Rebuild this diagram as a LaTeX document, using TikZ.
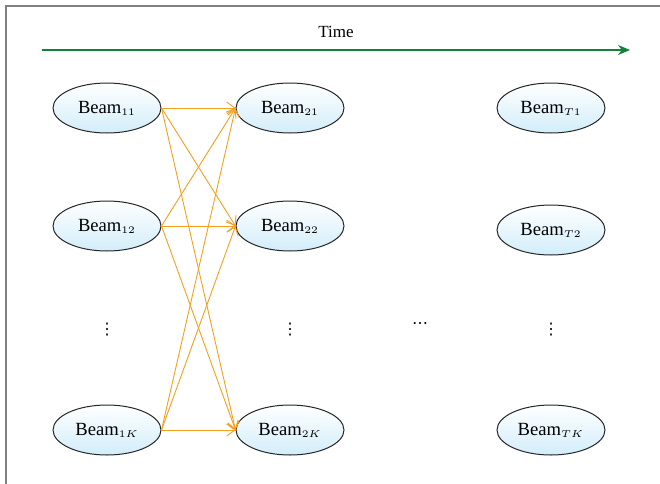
\documentclass[tikz,border=0pt]{standalone}
\usepackage{fontspec}
\setmainfont{Liberation Serif}
\newfontfamily\dotsfont{DejaVu Sans}
\usetikzlibrary{arrows.meta,shapes.geometric}

\definecolor{beamblue}{RGB}{210,237,250}
\definecolor{linkorange}{RGB}{242,160,30}
\definecolor{timegreen}{RGB}{20,128,60}

\tikzset{
	beam/.style={ellipse, draw=black!85, line width=0.5pt, minimum width=54pt, minimum height=25pt,
		inner sep=0pt, top color=white, bottom color=beamblue, font=\fontsize{9.3}{10}\selectfont},
	link/.style={draw=linkorange, line width=0.45pt, -{Straight Barb[length=4pt,width=6pt]}},
	dotsnode/.style={font=\dotsfont\fontsize{8}{9}\selectfont, inner sep=1pt},
}

\begin{document}
\begin{tikzpicture}[x=0.5pt, y=-0.5pt]
	\useasboundingbox (0,0) rectangle (660,483);
	\draw[black!50, line width=1pt] (6,520) -- (6,6) -- (700,6);

	\node (T) at (336,32) {\fontsize{8.5}{10}\selectfont Time};
	\coordinate (t0) at (42,50);
	\coordinate (t1) at (630,50);
	\draw[timegreen, line width=0.6pt, -{Stealth[length=6pt,width=5pt]}] (t0) -- (t1);

	\node[beam] (b11) at (107,108) {Beam$_{\scriptscriptstyle 11}$};
	\node[beam] (b12) at (107,226) {Beam$_{\scriptscriptstyle 12}$};
	\node[dotsnode] (d1) at (107,330) {⋮};
	\node[beam] (b1K) at (107,430) {Beam$_{\scriptscriptstyle 1K}$};

	\node[beam] (b21) at (290,108) {Beam$_{\scriptscriptstyle 21}$};
	\node[beam] (b22) at (290,226) {Beam$_{\scriptscriptstyle 22}$};
	\node[dotsnode] (d2) at (290,330) {⋮};
	\node[beam] (b2K) at (290,430) {Beam$_{\scriptscriptstyle 2K}$};

	\node[dotsnode] (h) at (420,326) {⋯};

	\node[beam] (bT1) at (551,108) {Beam$_{\scriptscriptstyle T1}$};
	\node[beam] (bT2) at (551,230) {Beam$_{\scriptscriptstyle T2}$};
	\node[dotsnode] (dT) at (551,330) {⋮};
	\node[beam] (bTK) at (551,430) {Beam$_{\scriptscriptstyle TK}$};

	\foreach \s in {11,12,1K}
		\foreach \t in {21,22,2K}
			\draw[link] (b\s.east) to (b\t.west);
\end{tikzpicture}
\end{document}
